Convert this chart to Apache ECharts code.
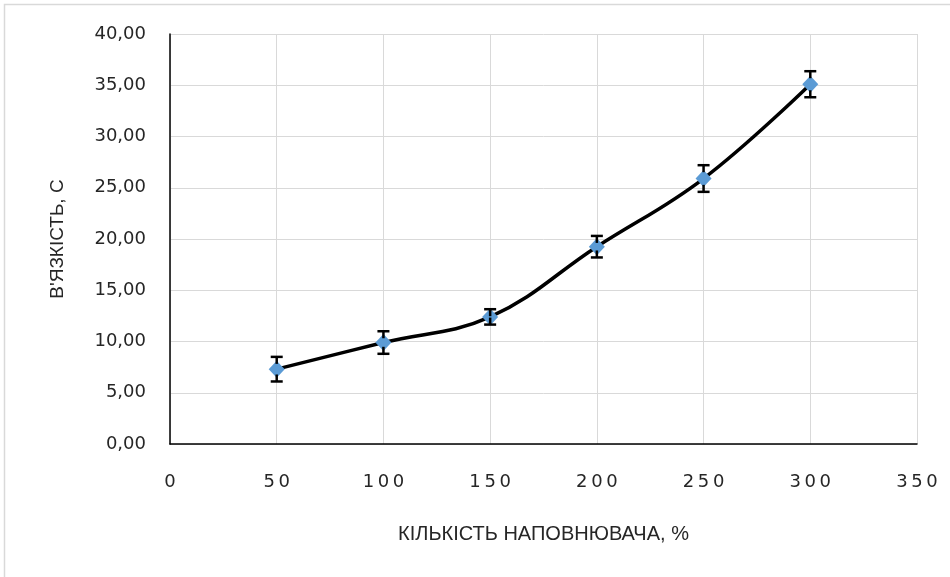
<!DOCTYPE html>
<html>
<head>
<meta charset="utf-8">
<script src="https://cdn.jsdelivr.net/npm/echarts@6/dist/echarts.min.js"></script>
<style>
  html, body { margin: 0; padding: 0; background: #fff; }
  #chart { width: 950px; height: 577px; }
</style>
</head>
<body>
<div id="chart"></div>
<script>
// кількість наповнювача, %
var fillerAmount = [50, 100, 150, 200, 250, 300];
// в'язкість, с
var viscosity = [7.3, 9.9, 12.4, 19.25, 25.9, 35.1];
// похибка (±)
var viscosityErr = [1.2, 1.1, 0.75, 1.05, 1.3, 1.27];

var xTicks = [0, 50, 100, 150, 200, 250, 300, 350];
var yTicks = [0, 5, 10, 15, 20, 25, 30, 35, 40];

var chart = echarts.init(document.getElementById('chart'));

var lineData = fillerAmount.map(function (x, i) { return [x, viscosity[i]]; });
var errData = fillerAmount.map(function (x, i) {
  return [x, viscosity[i] - viscosityErr[i], viscosity[i] + viscosityErr[i]];
});

var labelColor = '#262626';
var tickFont = '"DejaVu Sans", sans-serif';
var titleFont = '"Liberation Sans", Arial, sans-serif';

chart.setOption({
  backgroundColor: '#fff',
  animation: false,
  graphic: [
    {
      // рамка діаграми
      type: 'rect',
      shape: { x: 4.5, y: 4.5, width: 1000, height: 700 },
      style: { fill: 'none', stroke: '#d9d9d9', lineWidth: 1.5 },
      silent: true
    }
  ],
  grid: {
    left: 170,
    right: 33,
    top: 34,
    bottom: 133,
    containLabel: false
  },
  xAxis: {
    type: 'value',
    min: 0,
    max: 350,
    interval: 50,
    name: 'КІЛЬКІСТЬ НАПОВНЮВАЧА, %',
    nameLocation: 'middle',
    nameGap: 80,
    nameTextStyle: { color: labelColor, fontSize: 20, fontFamily: titleFont },
    axisLine: { show: true, lineStyle: { color: '#000', width: 1.5 } },
    axisTick: { show: false },
    axisLabel: {
      color: labelColor,
      fontSize: 18,
      fontFamily: tickFont,
      margin: 29,
      formatter: function (v) { return xTicks.indexOf(v) >= 0 ? String(v).split('').join('\u2009') : ''; }
    },
    splitLine: { show: true, lineStyle: { color: '#d9d9d9', width: 1 } }
  },
  yAxis: {
    type: 'value',
    min: 0,
    max: 40,
    interval: 5,
    name: "В'ЯЗКІСТЬ, С",
    nameLocation: 'middle',
    nameRotate: 90,
    nameGap: 103,
    nameTextStyle: { color: labelColor, fontSize: 19, fontFamily: titleFont },
    axisLine: { show: true, lineStyle: { color: '#000', width: 1.5 } },
    axisTick: { show: false },
    axisLabel: {
      color: labelColor,
      fontSize: 18,
      fontFamily: tickFont,
      margin: 24,
      formatter: function (v) { return yTicks.indexOf(v) >= 0 ? v.toFixed(2).replace('.', ',') : ''; }
    },
    splitLine: { show: true, lineStyle: { color: '#d9d9d9', width: 1 } }
  },
  series: [
    {
      type: 'line',
      data: lineData,
      smooth: 0.4,
      z: 3,
      lineStyle: { color: '#000', width: 3.5 },
      symbol: 'diamond',
      symbolSize: [16, 17],
      itemStyle: { color: '#5b9bd5', borderWidth: 0 }
    },
    {
      // планки похибок
      type: 'custom',
      data: errData,
      z: 4,
      renderItem: function (params, api) {
        var x = api.value(0);
        var lo = api.coord([x, api.value(1)]);
        var hi = api.coord([x, api.value(2)]);
        var cap = 6;
        var st = { stroke: '#000', lineWidth: 2.5 };
        return {
          type: 'group',
          children: [
            { type: 'line', shape: { x1: hi[0], y1: hi[1], x2: hi[0], y2: hi[1] + 7 }, style: st },
            { type: 'line', shape: { x1: lo[0], y1: lo[1], x2: lo[0], y2: lo[1] - 7 }, style: st },
            { type: 'line', shape: { x1: hi[0] - cap, y1: hi[1], x2: hi[0] + cap, y2: hi[1] }, style: st },
            { type: 'line', shape: { x1: lo[0] - cap, y1: lo[1], x2: lo[0] + cap, y2: lo[1] }, style: st }
          ]
        };
      }
    }
  ]
});
</script>
</body>
</html>
